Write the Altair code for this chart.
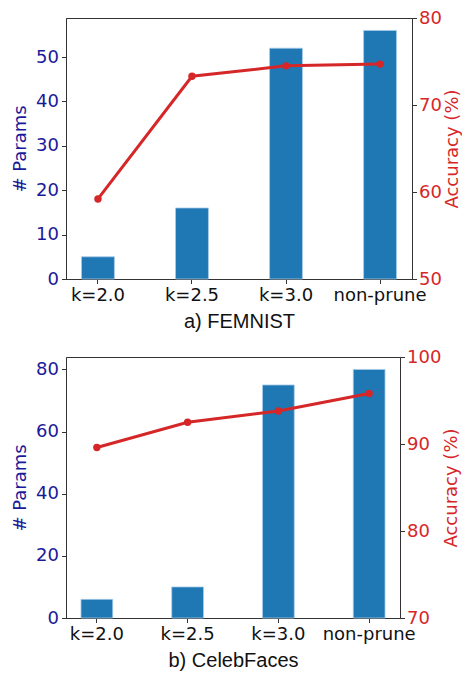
import altair as alt
import pandas as pd

categories = ["k=2.0", "k=2.5", "k=3.0", "non-prune"]
femnist_params = [5, 16, 52, 56]
femnist_acc = [59.2, 73.3, 74.5, 74.7]
celeb_params = [6, 10, 75, 80]
celeb_acc = [89.6, 92.5, 93.8, 95.8]

BAR = "#1f77b4"
RED = "#d62728"
NAVY = "#1a1a99"
FRAME = "#333333"


def panel(params, acc, title, ldom, lticks, rdom, rticks, width):
    df = pd.DataFrame({"cat": categories, "params": params, "acc": acc})
    base = alt.Chart(df).encode(
        x=alt.X(
            "cat:N",
            sort=categories,
            scale=alt.Scale(paddingInner=0.65, paddingOuter=0.165),
            axis=alt.Axis(
                title=title,
                labelAngle=0,
                labelColor="#111111",
                titleFont="Liberation Sans",
                titleFontSize=20,
                titleColor="#111111",
                titlePadding=7,
            ),
        )
    )
    bars = base.mark_bar(color=BAR, stroke="#a9cce8", strokeWidth=0.8).encode(
        y=alt.Y(
            "params:Q",
            scale=alt.Scale(domain=ldom, nice=False, zero=True),
            axis=alt.Axis(
                values=lticks,
                title="# Params",
                titleColor=NAVY,
                labelColor=NAVY,
            ),
        )
    )
    line = base.mark_line(
        color=RED,
        strokeWidth=3,
        point=alt.OverlayMarkDef(filled=True, size=55, color=RED),
    ).encode(
        y=alt.Y(
            "acc:Q",
            scale=alt.Scale(domain=rdom, nice=False, zero=False),
            axis=alt.Axis(
                values=rticks,
                orient="right",
                title="Accuracy (%)",
                titleAngle=270,
                titleBaseline="top",
                titlePadding=2,
                labelPadding=2,
                titleColor=RED,
                labelColor=RED,
            ),
        )
    )
    return (
        alt.layer(bars, line)
        .resolve_scale(y="independent")
        .properties(width=width, height=261)
    )


p1 = panel(femnist_params, femnist_acc, "a) FEMNIST",
           [0, 58.8], [0, 10, 20, 30, 40, 50], [50, 80], [50, 60, 70, 80], 346)
p2 = panel(celeb_params, celeb_acc, "b) CelebFaces",
           [0, 84], [0, 20, 40, 60, 80], [70, 100], [70, 80, 90, 100], 334)

chart = (
    alt.vconcat(p1, p2, spacing=15)
    .properties(padding={"left": 3, "top": 0, "right": 0, "bottom": 0})
    .configure_view(stroke=FRAME, strokeWidth=1)
    .configure_axis(
        labelFont="DejaVu Sans",
        labelFontSize=18,
        titleFont="DejaVu Sans",
        titleFontSize=18,
        titleFontWeight="normal",
        tickSize=4.5,
        tickColor=FRAME,
        domainColor=FRAME,
        grid=False,
        labelPadding=3,
        titlePadding=6,
    )
)

chart.save("out.html", embed_options={"renderer": "svg", "actions": False})
